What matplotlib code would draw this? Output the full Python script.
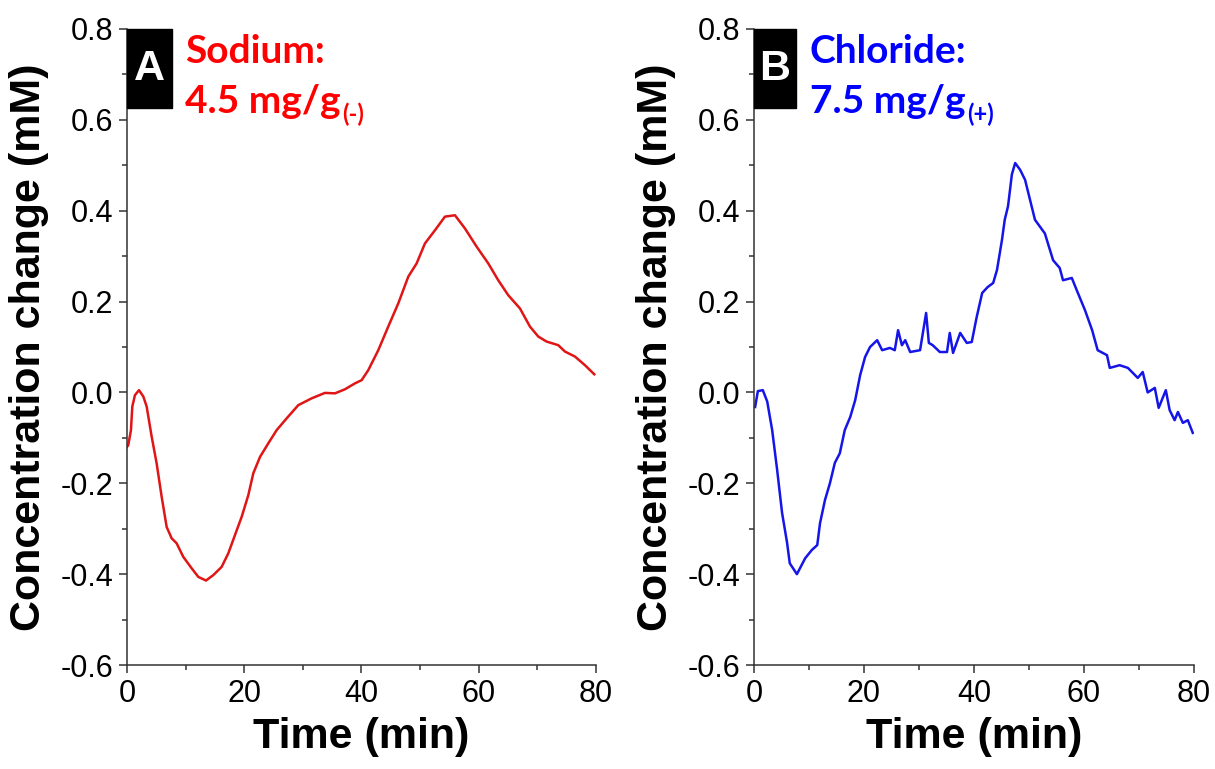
import matplotlib.pyplot as plt
from matplotlib.patches import Rectangle
from matplotlib.ticker import MultipleLocator

plt.rcParams['font.family'] = ['Liberation Sans', 'DejaVu Sans']
plt.rcParams['axes.unicode_minus'] = False

# panel A: sodium (red)
time_a = [0.0, 0.22, 0.68, 0.91, 1.36, 2.05, 2.79, 3.36, 4.21, 5.06, 5.91,
          6.77, 7.62, 8.47, 9.61, 11.03, 12.17, 13.48, 14.73, 16.15, 17.29,
          18.42, 19.56, 20.70, 21.55, 22.69, 24.11, 25.53, 27.24, 29.22, 31.5,
          33.77, 35.48, 37.19, 38.89, 40.03, 41.16, 42.87, 44.57, 46.28, 47.99,
          49.41, 50.83, 52.54, 54.24, 55.95, 57.65, 59.64, 61.63, 63.33, 65.04,
          67.03, 68.74, 70.16, 71.58, 73.57, 74.71, 76.42, 78.12, 79.71]
conc_a = [-0.12, -0.116, -0.083, -0.031, -0.006, 0.005, -0.009, -0.031, -0.097,
          -0.156, -0.229, -0.296, -0.321, -0.332, -0.362, -0.387, -0.406,
          -0.414, -0.402, -0.384, -0.354, -0.314, -0.274, -0.226, -0.178,
          -0.142, -0.112, -0.083, -0.057, -0.028, -0.013, -0.001, -0.002,
          0.007, 0.02, 0.027, 0.049, 0.093, 0.145, 0.196, 0.255, 0.284, 0.328,
          0.357, 0.387, 0.39, 0.361, 0.321, 0.284, 0.247, 0.214, 0.185, 0.145,
          0.123, 0.112, 0.104, 0.09, 0.079, 0.06, 0.04]

# panel B: chloride (blue)
time_b = [0.2, 0.7, 1.6, 2.4, 3.3, 4.2, 5.1, 6.0, 6.5, 7.8, 9.3, 10.5, 11.5,
          12.0, 12.9, 13.8, 14.7, 15.6, 16.5, 17.5, 18.4, 19.3, 20.2, 21.1,
          22.4, 23.3, 24.7, 25.6, 26.2, 26.9, 27.5, 28.4, 30.2, 31.3, 31.8,
          32.5, 33.8, 35.1, 35.6, 36.2, 37.5, 38.7, 39.6, 40.5, 41.5, 42.5,
          43.5, 44.2, 45.1, 45.6, 46.2, 46.9, 47.5, 48.4, 49.3, 50.2, 51.1,
          52.9, 54.4, 55.6, 56.2, 57.8, 58.7, 60.2, 61.5, 62.5, 64.2, 64.7,
          66.5, 68.0, 69.8, 70.7, 71.6, 72.9, 73.6, 74.9, 75.6, 76.5, 77.1,
          78.0, 78.9, 79.8]
conc_b = [-0.032, 0.003, 0.005, -0.02, -0.083, -0.17, -0.265, -0.33, -0.376,
          -0.40, -0.365, -0.347, -0.336, -0.288, -0.237, -0.2, -0.155, -0.134,
          -0.083, -0.054, -0.017, 0.038, 0.078, 0.1, 0.115, 0.093, 0.098,
          0.093, 0.137, 0.104, 0.115, 0.089, 0.093, 0.175, 0.109, 0.104, 0.089,
          0.089, 0.131, 0.087, 0.131, 0.109, 0.111, 0.166, 0.219, 0.232, 0.241,
          0.27, 0.336, 0.38, 0.41, 0.48, 0.505, 0.49, 0.468, 0.424, 0.38, 0.35,
          0.291, 0.274, 0.247, 0.252, 0.225, 0.181, 0.137, 0.093, 0.082, 0.054,
          0.06, 0.054, 0.032, 0.045, 0.0, 0.01, -0.034, 0.005, -0.039, -0.061,
          -0.043, -0.067, -0.061, -0.089]

panels = [
    dict(t=time_a, c=conc_a, line='#e01515', txt='#ff0000', letter='A',
         name='Sodium:', dose='4.5 mg/g', sub='(-)', left=0.1045, tx=0.124),
    dict(t=time_b, c=conc_b, line='#1515e8', txt='#0000ff', letter='B',
         name='Chloride:', dose='7.5 mg/g', sub='(+)', left=0.6206, tx=0.127),
]

fig = plt.figure(figsize=(12.15, 7.69), dpi=100)
widths = [0.386, 0.362]
label_font = ['Lato', 'DejaVu Sans']

for p, w in zip(panels, widths):
    ax = fig.add_axes([p['left'], 0.1352, w, 0.8271])
    ax.plot(p['t'], p['c'], color=p['line'], lw=1.8)
    ax.set_xlim(0, 80)
    ax.set_ylim(-0.6, 0.8)
    ax.xaxis.set_major_locator(MultipleLocator(20))
    ax.xaxis.set_minor_locator(MultipleLocator(10))
    ax.yaxis.set_minor_locator(MultipleLocator(0.1))
    ax.set_yticks([-0.6, -0.4, -0.2, 0.0, 0.2, 0.4, 0.6, 0.8])
    ax.set_yticklabels(['-0.6', '-0.4', '-0.2', '0.0', '0.2', '0.4', '0.6', '0.8'])
    for s in ['top', 'right']:
        ax.spines[s].set_visible(False)
    for s in ['left', 'bottom']:
        ax.spines[s].set_linewidth(1.1)
        ax.spines[s].set_color('#333333')
    ax.tick_params(which='major', direction='out', length=6, width=1.1,
                   labelsize=22, pad=4, color='#333333')
    ax.tick_params(which='minor', direction='out', length=3.5, width=1.1,
                   color='#333333')
    ax.set_xlabel('Time (min)', fontsize=31, fontweight='bold', labelpad=6)
    ax.set_ylabel('Concentration change (mM)', fontsize=31,
                  fontweight='bold', labelpad=8)

    # letter badge
    ax.add_patch(Rectangle((0, 0.626), 7.6, 0.174, color='black',
                           clip_on=False, zorder=5))
    ax.text(3.8, 0.712, p['letter'], color='white', fontsize=31,
            fontweight='bold', ha='center', va='center', zorder=6)

    ax.text(p['tx'], 0.9465, p['name'], transform=ax.transAxes, color=p['txt'],
            family=label_font, fontweight='bold', fontsize=28,
            va='baseline', ha='left')
    dose = ax.text(p['tx'], 0.868, p['dose'], transform=ax.transAxes,
                   color=p['txt'], family=label_font, fontweight='bold',
                   fontsize=28, va='baseline', ha='left')
    ax.annotate(p['sub'], xy=(1, 0), xycoords=dose, xytext=(1, 3),
                textcoords='offset points', color=p['txt'], family=label_font,
                fontweight='bold', fontsize=17, va='center', ha='left')

fig.savefig('out.png', dpi=100)
